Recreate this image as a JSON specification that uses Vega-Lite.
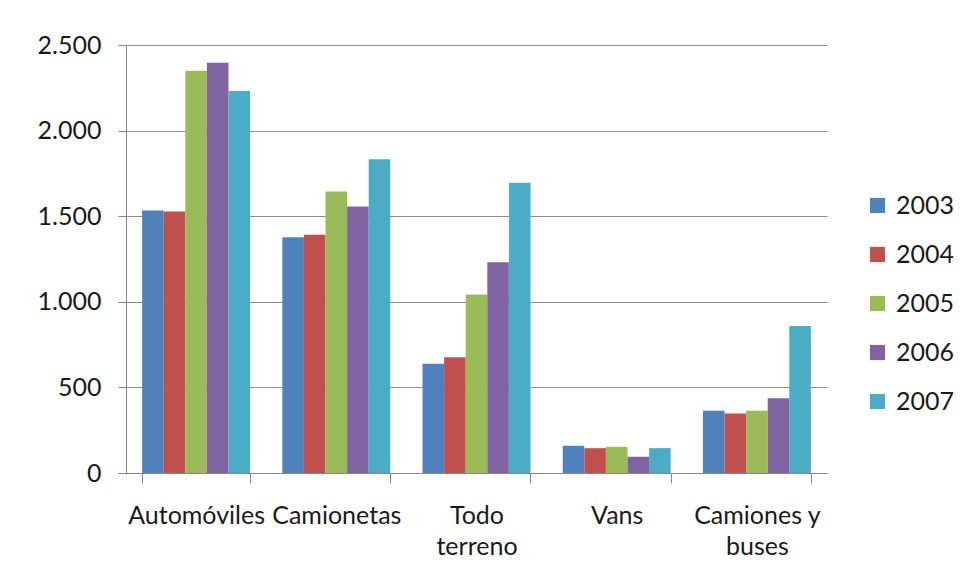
{
  "$schema": "https://vega.github.io/schema/vega-lite/v6.json",
  "width": 701,
  "height": 428,
  "autosize": {"type": "none"},
  "padding": {"left": 126, "top": 45, "right": 134, "bottom": 110},
  "background": "white",
  "config": {
    "locale": {"number": {"decimal": ",", "thousands": ".", "grouping": [3], "currency": ["", " €"]}},
    "view": {"stroke": null},
    "font": "Lato",
    "axis": {"labelFont": "Lato", "labelFontSize": 25, "labelColor": "#1a1a1a", "titleFontSize": 0}
  },
  "data": {
    "values": [
      {"tipo": "Automóviles", "anio": "2003", "unidades": 1534},
      {"tipo": "Automóviles", "anio": "2004", "unidades": 1527},
      {"tipo": "Automóviles", "anio": "2005", "unidades": 2350},
      {"tipo": "Automóviles", "anio": "2006", "unidades": 2397},
      {"tipo": "Automóviles", "anio": "2007", "unidades": 2231},
      {"tipo": "Camionetas", "anio": "2003", "unidades": 1377},
      {"tipo": "Camionetas", "anio": "2004", "unidades": 1392},
      {"tipo": "Camionetas", "anio": "2005", "unidades": 1645},
      {"tipo": "Camionetas", "anio": "2006", "unidades": 1556},
      {"tipo": "Camionetas", "anio": "2007", "unidades": 1832},
      {"tipo": "Todo terreno", "anio": "2003", "unidades": 638},
      {"tipo": "Todo terreno", "anio": "2004", "unidades": 676},
      {"tipo": "Todo terreno", "anio": "2005", "unidades": 1043},
      {"tipo": "Todo terreno", "anio": "2006", "unidades": 1231},
      {"tipo": "Todo terreno", "anio": "2007", "unidades": 1695},
      {"tipo": "Vans", "anio": "2003", "unidades": 159},
      {"tipo": "Vans", "anio": "2004", "unidades": 145},
      {"tipo": "Vans", "anio": "2005", "unidades": 153},
      {"tipo": "Vans", "anio": "2006", "unidades": 95},
      {"tipo": "Vans", "anio": "2007", "unidades": 145},
      {"tipo": "Camiones y buses", "anio": "2003", "unidades": 363},
      {"tipo": "Camiones y buses", "anio": "2004", "unidades": 348},
      {"tipo": "Camiones y buses", "anio": "2005", "unidades": 363},
      {"tipo": "Camiones y buses", "anio": "2006", "unidades": 437},
      {"tipo": "Camiones y buses", "anio": "2007", "unidades": 858}
    ]
  },
  "mark": {"type": "bar"},
  "encoding": {
    "x": {
      "field": "tipo",
      "type": "nominal",
      "sort": null,
      "scale": {"paddingInner": 0.23, "paddingOuter": 0.115},
      "axis": {
        "title": null,
        "labelAngle": 0,
        "tickBand": "extent",
        "tickSize": 10,
        "tickColor": "#868686",
        "domainColor": "#868686",
        "labelPadding": 20,
        "labelBaseline": "top",
        "labelLineHeight": 31,
        "labelLimit": 0,
        "labelExpr": "datum.label == 'Todo terreno' ? ['Todo', 'terreno'] : datum.label == 'Camiones y buses' ? ['Camiones y', 'buses'] : datum.label"
      }
    },
    "xOffset": {"field": "anio", "type": "nominal"},
    "y": {
      "field": "unidades",
      "type": "quantitative",
      "scale": {"domain": [0, 2500]},
      "axis": {
        "title": null,
        "values": [0, 500, 1000, 1500, 2000, 2500],
        "format": ",d",
        "tickSize": 8,
        "tickColor": "#868686",
        "domainColor": "#868686",
        "grid": true,
        "gridColor": "#8c8c8c",
        "labelPadding": 17
      }
    },
    "color": {
      "field": "anio",
      "type": "nominal",
      "scale": {
        "domain": ["2003", "2004", "2005", "2006", "2007"],
        "range": ["#4F81BD", "#C0504D", "#9BBB59", "#8064A2", "#4BACC6"]
      },
      "legend": {
        "title": null,
        "orient": "none",
        "legendX": 739,
        "legendY": 148,
        "symbolType": "square",
        "symbolSize": 230,
        "symbolStrokeWidth": 0,
        "symbolOpacity": 1,
        "labelFont": "Lato",
        "labelFontSize": 25,
        "labelColor": "#1a1a1a",
        "labelOffset": 6,
        "rowPadding": 23
      }
    }
  }
}
